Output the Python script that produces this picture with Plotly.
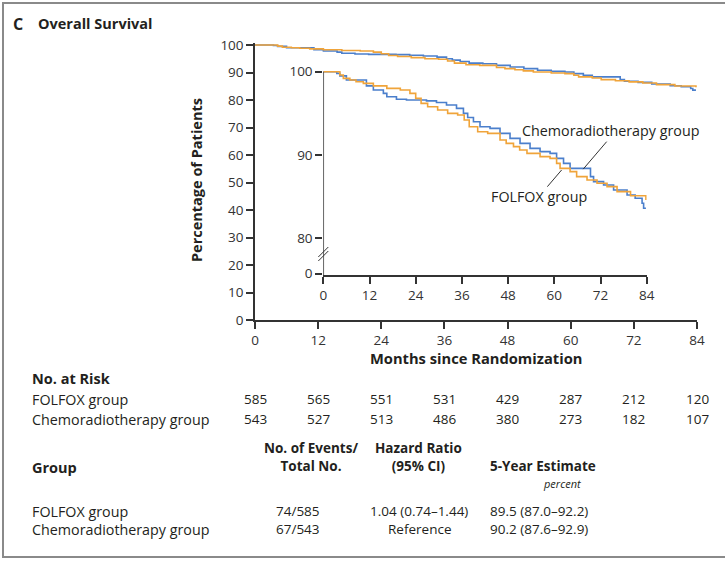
import plotly.graph_objects as go

# ---------------- data ----------------
months_folfox = [0, 4.3, 5.2, 6.9, 8.5, 10.4, 13.0, 16.5, 20.0, 22.5, 24.0, 25.4, 27.1, 29.7,
                 32.3, 34.9, 36.6, 37.9, 40.1, 42.7, 45.9, 47.5, 49.4, 51.0, 52.9, 56.3, 58.9,
                 60.6, 61.5, 64.1, 65.8, 68.5, 71.1, 73.7, 76.3, 79.8, 83.8]
surv_folfox = [100, 99.6, 99.2, 99.0, 98.8, 98.6, 98.3, 98.0, 97.8, 97.4, 96.8, 96.2, 95.8, 95.4,
               95.0, 94.8, 94.2, 93.4, 92.8, 92.6, 91.8, 91.4, 91.0, 90.6, 90.2, 89.8, 89.6,
               89.0, 88.4, 88.0, 87.4, 87.0, 86.6, 86.2, 85.6, 85.1, 84.6]

months_chemo = [0, 3.5, 4.3, 6.0, 11.2, 13.0, 15.6, 16.5, 19.0, 21.6, 26.8, 29.4, 32.0, 34.6,
                36.4, 37.5, 39.0, 40.7, 43.3, 45.9, 48.5, 51.1, 53.7, 56.3, 58.9, 60.6, 62.4,
                64.1, 69.4, 70.2, 72.8, 75.4, 78.9, 81.0, 82.8, 83.2, 83.8]
surv_chemo = [100, 99.8, 99.5, 99.0, 98.3, 97.8, 97.4, 97.0, 96.7, 96.6, 96.5, 96.3, 96.0, 95.6,
              95.0, 94.5, 94.0, 93.4, 93.2, 92.6, 92.0, 91.4, 90.8, 90.4, 90.2, 89.6, 89.0,
              88.4, 87.4, 86.8, 86.4, 85.8, 85.2, 84.8, 84.2, 83.6, 83.6]

x_ticks = [0, 12, 24, 36, 48, 60, 72, 84]
y_ticks_main = [0, 10, 20, 30, 40, 50, 60, 70, 80, 90, 100]
y_ticks_inset = [80, 90, 100]
y_zero_inset_label = "0"

risk_folfox = [585, 565, 551, 531, 429, 287, 212, 120]
risk_chemo = [543, 527, 513, 486, 380, 273, 182, 107]

groups = ["FOLFOX group", "Chemoradiotherapy group"]
events = ["74/585", "67/543"]
hazard = ["1.04 (0.74\u20131.44)", "Reference"]
five_year = ["89.5 (87.0\u201392.2)", "90.2 (87.6\u201392.9)"]

ORANGE = "#f0a43a"
BLUE = "#4b7fcc"
TXT = "#231f20"
FONT = "'Open Sans', Lato, sans-serif"

# ---------------- geometry ----------------
W_FIG, H_FIG = 725, 563
L, R_PX = 255, 697        # main x 0 -> 255 px, 84 -> 697 px
TOP, B = 43, 320          # plot area top, bottom (y=0 at 320)
PW, PH = R_PX - L, B - TOP
Y100 = 45                 # pixel of 100 on main axis
ymax_main = 100 * (B - TOP) / (B - Y100)


def px_x(px):
    return (px - L) / PW


def px_y(py):
    return (B - py) / PH


# inset geometry
IX0, IX1 = 323.3, 646.7
IY_BOTTOM = 275
IY100 = 71.7
UNIT_I = 8.33
inset_lo = 100 - (IY_BOTTOM - IY100) / UNIT_I
inset_hi = 100.4
inset_top_px = IY100 - (inset_hi - 100) * UNIT_I
inset_zero_val = inset_lo + 0.15

fig = go.Figure()

for xa, ya in [("x", "y"), ("x2", "y2")]:
    fig.add_trace(go.Scatter(x=months_chemo, y=surv_chemo, mode="lines", line_shape="hv",
                             line=dict(color=BLUE, width=1.6), xaxis=xa, yaxis=ya,
                             showlegend=False, hoverinfo="skip"))
    fig.add_trace(go.Scatter(x=months_folfox, y=surv_folfox, mode="lines", line_shape="hv",
                             line=dict(color=ORANGE, width=1.6), xaxis=xa, yaxis=ya,
                             showlegend=False, hoverinfo="skip"))

axis_common = dict(showgrid=False, zeroline=False, linecolor="#333",
                   linewidth=1.5, ticks="outside", ticklen=7, tickwidth=1.5, tickcolor="#333",
                   tickfont=dict(family=FONT, size=13.5, color="#333"))

fig.update_layout(
    width=W_FIG, height=H_FIG, autosize=False,
    margin=dict(l=L, r=W_FIG - R_PX, t=TOP, b=H_FIG - B, pad=0),
    paper_bgcolor="white", plot_bgcolor="rgba(0,0,0,0)",
    font=dict(family=FONT, color=TXT),
    xaxis=dict(range=[0, 84], tickvals=x_ticks, domain=[0, 1], anchor="y", showline=True,
               **axis_common),
    yaxis=dict(range=[0, ymax_main], tickvals=y_ticks_main, domain=[0, 1], anchor="x",
               showline=True, **axis_common),
    xaxis2=dict(range=[0, 84], tickvals=x_ticks, domain=[px_x(IX0), px_x(IX1)],
                anchor="y2", showline=True, **axis_common),
    yaxis2=dict(range=[inset_lo, inset_hi], domain=[px_y(IY_BOTTOM), px_y(inset_top_px)],
                anchor="x2",
                tickvals=[inset_zero_val] + y_ticks_inset,
                ticktext=[y_zero_inset_label] + [str(v) for v in y_ticks_inset],
                showline=False, **axis_common),
)

shapes = []
# inset y axis line (from 0 up to 100)
shapes.append(dict(type="line", xref="x2", yref="y2", x0=0, x1=0, y0=inset_lo, y1=100,
                   line=dict(color="#333", width=1.5)))
# axis break marks
for dy in (0, 4):
    shapes.append(dict(type="line", xref="paper", yref="paper",
                       x0=px_x(IX0 - 5), x1=px_x(IX0 + 5),
                       y0=px_y(261 - dy), y1=px_y(251 - dy),
                       line=dict(color="#333", width=1)))
# leader lines
shapes.append(dict(type="line", xref="x2", yref="y2", x0=73.6, y0=91.6, x1=67.5, y1=88.3,
                   line=dict(color="#333", width=1)))
shapes.append(dict(type="line", xref="x2", yref="y2", x0=61.9, y0=88.2, x1=58.2, y1=86.2,
                   line=dict(color="#333", width=1)))
# outer border
shapes.append(dict(type="rect", xref="paper", yref="paper",
                   x0=px_x(3), x1=px_x(740), y0=px_y(557), y1=px_y(3),
                   line=dict(color="#8a8a8a", width=2), fillcolor="rgba(0,0,0,0)"))
fig.update_layout(shapes=shapes)

ann = []


def text(px, py, s, size=12, bold=False, anchor="left", italic=False, xref="paper"):
    t = s
    if bold:
        t = "<b>" + t.replace("<br>", "</b><br><b>") + "</b>"
    if italic:
        t = "<i>" + t + "</i>"
    ann.append(dict(x=px if xref != "paper" else px_x(px), y=px_y(py), xref=xref, yref="paper",
                    text=t, showarrow=False, xanchor=anchor, yanchor="middle", align=anchor
                    if anchor != "center" else "center",
                    font=dict(family=FONT, size=size, color=TXT)))


# title
text(11, 24, "C", size=16, bold=True)
text(36, 24, "Overall Survival", size=14.5, bold=True)
# axis titles
ann.append(dict(x=px_x(196), y=px_y(180), xref="paper", yref="paper",
                text="<b>Percentage of Patients</b>",
                textangle=-90, showarrow=False, xanchor="center", yanchor="middle",
                font=dict(family=FONT, size=14.5, color=TXT)))
text(476, 358, "Months since Randomization", size=14.7, bold=True, anchor="center")

# curve labels
ann.append(dict(x=51.0, y=92.9, xref="x2", yref="y2", text="Chemoradiotherapy group",
                showarrow=False, xanchor="left", yanchor="middle",
                font=dict(family=FONT, size=14.3, color=TXT)))
ann.append(dict(x=43.1, y=85.0, xref="x2", yref="y2", text="FOLFOX group",
                showarrow=False, xanchor="left", yanchor="middle",
                font=dict(family=FONT, size=14.3, color=TXT)))

# number at risk
text(30, 378, "No. at Risk", size=14.5, bold=True)
text(30, 399, groups[0], size=14.3)
text(30, 419, groups[1], size=14.3)
for m, a, b in zip(x_ticks, risk_folfox, risk_chemo):
    text(m, 399, str(a), size=13.5, anchor="center", xref="x")
    text(m, 419, str(b), size=13.5, anchor="center", xref="x")

# summary table
text(311, 457, "No. of Events/<br>Total No.", size=13.5, bold=True, anchor="center")
text(418, 457, "Hazard Ratio<br>(95% CI)", size=13.5, bold=True, anchor="center")
text(30, 467, "Group", size=14.5, bold=True)
text(488, 466, "5-Year Estimate", size=13.5, bold=True)
text(562, 483, "percent", size=11, italic=True, anchor="center")
for i, yy in enumerate([511, 529]):
    text(30, yy, groups[i], size=14.3)
    text(298, yy, events[i], size=13.5, anchor="center")
    text(419, yy, hazard[i], size=13.5, anchor="center")
    text(488, yy, five_year[i], size=13.5)

fig.update_layout(annotations=ann)
fig.write_html("out.html")
